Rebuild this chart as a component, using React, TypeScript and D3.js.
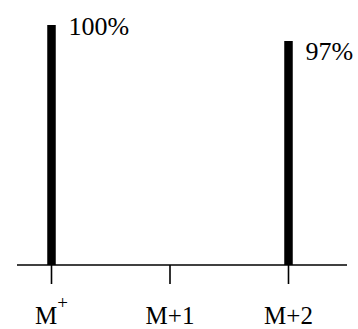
import React from "react";
import * as d3 from "d3";

const categories = ["M+", "M+1", "M+2"];
const values: (number | null)[] = [100, null, 97];
const valueLabels = ["100%", "", "97%"];

const W = 358;
const H = 329;
const axisY = 265;
const labelDy = [10, 19, 19];

export default function App() {
  const x = d3.scalePoint<string>().domain(categories).range([51.5, 288.5]);
  const y = d3.scaleLinear().domain([55, 100]).range([axisY, 25]);
  const barW = 8.5;
  const font = "'Liberation Serif', 'Times New Roman', serif";

  return (
    <svg width={W} height={H} style={{ position: "absolute", left: 0, top: 0 }}>
      <rect width={W} height={H} fill="#fff" />
      {categories.map((c, i) => {
        const v = values[i];
        if (v == null) return null;
        const cx = x(c)!;
        return (
          <g key={c}>
            <rect x={cx - barW / 2} y={y(v)} width={barW} height={axisY - y(v)} fill="#000" />
            <text x={cx + 17} y={y(v) + labelDy[i]} fontFamily={font} fontSize={26} fill="#000">
              {valueLabels[i]}
            </text>
          </g>
        );
      })}
      <line x1={17} x2={347} y1={axisY} y2={axisY} stroke="#000" strokeWidth={1.6} />
      {categories.map((c) => {
        const cx = x(c)!;
        const sup = c === "M+";
        return (
          <g key={"t" + c}>
            <line x1={cx} x2={cx} y1={axisY} y2={284} stroke="#000" strokeWidth={1.6} />
            <text x={cx} y={324} textAnchor="middle" fontFamily={font} fontSize={25} fill="#000">
              {sup ? (
                <>
                  <tspan>M</tspan>
                  <tspan fontSize={19} dy={-15}>+</tspan>
                </>
              ) : (
                c
              )}
            </text>
          </g>
        );
      })}
    </svg>
  );
}
